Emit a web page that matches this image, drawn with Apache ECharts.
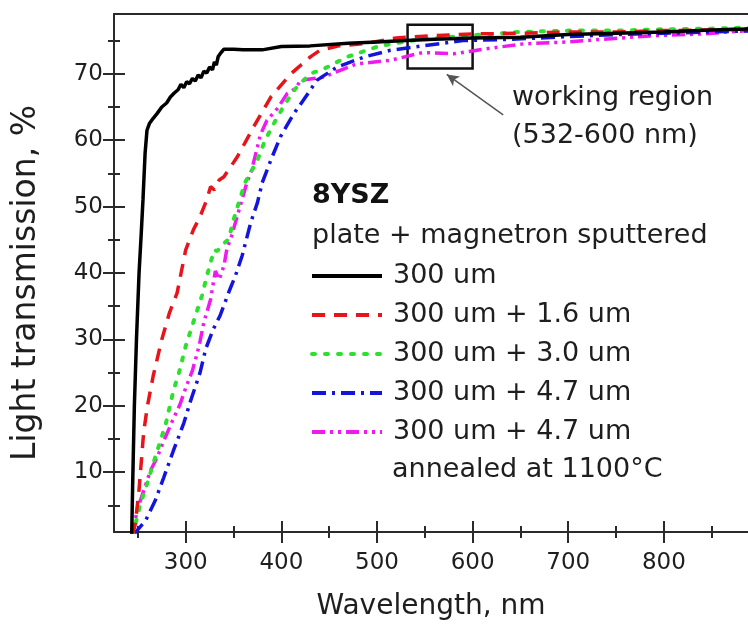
<!DOCTYPE html>
<html>
<head>
<meta charset="utf-8">
<script src="https://cdn.jsdelivr.net/npm/echarts@6/dist/echarts.min.js"></script>
<style>
html,body{margin:0;padding:0;background:#fff;}
#chart{width:748px;height:626px;}
</style>
</head>
<body>
<div id="chart"></div>
<script>
// ---- data (wavelength nm, transmission %) ----
var seriesNames = ['300 um', '300 um + 1.6 um', '300 um + 3.0 um', '300 um + 4.7 um', '300 um + 4.7 um '];

var plate300 = [[243.5,0.5],[244.5,8],[246.3,20],[248.5,30],[251.2,40],[253.5,46],[255.3,51],[257.5,58],[259.5,61.5],[262,62.5],[266,63.3],[270,64],[275,65],[280,65.6],[284,66.5],[288,67.1],[292,67.6],[295,68.4],[298,67.9],[301,68.8],[304,68.5],[307,69.3],[310,68.9],[313,69.8],[316,69.4],[319,70.4],[322,70.1],[325,71],[328,70.6],[330,71.8],[332,71.3],[334,72.6],[337,73.2],[340,73.7],[350,73.7],[360,73.6],[380,73.6],[400,74.1],[430,74.2],[470,74.6],[500,74.8],[530,75],[560,75.2],[600,75.4],[650,75.5],[700,75.9],[750,76.1],[800,76.3],[850,76.6],[900,76.8]];

var plus16 = [[244,0.5],[247,2],[251,7],[256,16],[260,20],[266,24.5],[275,30],[283,34],[291,37],[300,43.5],[308,46.5],[315,48.5],[322,51],[326,53],[330,52.5],[335,54],[340,54.5],[354,57.5],[371,62],[389,66.5],[410,70],[430,72.5],[440,73.5],[460,74.2],[490,74.6],[520,75.4],[555,75.7],[600,76],[650,76.1],[700,76.3],[750,76.3],[800,76.5],[850,76.6],[900,76.8]];

var plus30 = [[244,0.5],[247.4,2.2],[252.6,5.2],[259.5,8.2],[268,12.2],[279,17.2],[287,22.2],[293,25],[300,29],[308,32.6],[317,36.6],[322,39.5],[326,41.6],[330,43.5],[333,43.3],[338,44.2],[345,45.1],[350,48],[362,53.6],[375,57],[383,60],[394,63],[404,65.5],[415,67.8],[430,70],[444,70.7],[468,72.5],[503,74.2],[545,75.2],[600,75.8],[650,76.3],[700,76.5],[750,76.5],[800,76.7],[850,76.8],[900,77]];

var plus47 = [[246,0.5],[249,1.2],[258,2.7],[268,5.7],[277,9.2],[287,13.2],[298,17.4],[305,20.7],[315,25],[321,28.6],[329,31.6],[336,33.6],[345,37.1],[352,39.6],[359,42.6],[368,47.6],[375,50.6],[380,53.6],[389,57],[399,60.5],[413,64],[423,66],[437,69],[458,71],[486,72.5],[513,73.5],[548,74.2],[590,75],[642,75.2],[700,75.6],[750,75.9],[800,76.1],[850,76.3],[900,76.5]];

var plus47annealed = [[243,0.5],[246,1.7],[249,4.2],[256,7.2],[263,10.2],[270,12.2],[277,14.7],[286,17.7],[294,20.2],[300,22.7],[307,25.3],[314,29],[319,32.6],[326,36],[329,38.6],[331,40.3],[335,39],[340,41.1],[343,43.6],[348,45.6],[354,48.6],[359,51.1],[364,53.6],[369,55.5],[375,59],[378,60.8],[385,63],[396,64.8],[406,67],[415,67.8],[420,69],[444,69.5],[479,71.5],[513,72],[548,73.2],[580,73],[611,73.7],[653,74.5],[700,74.8],[737,75.2],[785,75.7],[840,76],[887,76.5],[900,76.6]];

// axis ticks
var xMajorTicks = [300, 400, 500, 600, 700, 800];
var xMinorTicks = [250, 350, 450, 550, 650, 750, 850];
var yMajorTicks = [10, 20, 30, 40, 50, 60, 70];
var yMinorTicks = [5, 15, 25, 35, 45, 55, 65, 75];

// annotation (data coordinates)
var workingRegion = [[532, 70.8], [600, 77.4]];
var arrowFrom = [632, 63.8];
var arrowTo = [573, 69.9];

var FONT = 'DejaVu Sans';
var TXT = '#1e1e1e';
var AX = '#2a2a2a';
var XMIN = 225, XMAX = 888, YMIN = 1, YMAX = 79;

function xAx(ticks, len, inside, main, pos) {
  return {
    type: 'value', min: XMIN, max: XMAX, position: pos || 'bottom', offset: 0,
    axisLine: {show: main || pos === 'top', onZero: false, lineStyle: {color: AX, width: 2}},
    axisTick: {show: !!ticks, inside: inside, length: len, customValues: ticks || [], lineStyle: {color: AX, width: 2}},
    axisLabel: main ? {show: true, customValues: xMajorTicks, fontFamily: FONT, fontSize: 23, color: TXT, margin: 20} : {show: false},
    splitLine: {show: false},
    name: main ? 'Wavelength, nm' : '',
    nameLocation: 'middle', nameGap: 61,
    nameTextStyle: {fontFamily: FONT, fontSize: 28, color: TXT}
  };
}
function yAx(ticks, len, inside, main) {
  return {
    type: 'value', min: YMIN, max: YMAX, position: 'left', offset: 0,
    axisLine: {show: main, onZero: false, lineStyle: {color: AX, width: 2}},
    axisTick: {show: true, inside: inside, length: len, customValues: ticks, lineStyle: {color: AX, width: 2}},
    axisLabel: main ? {show: true, customValues: yMajorTicks, fontFamily: FONT, fontSize: 23, color: TXT, margin: 11} : {show: false},
    splitLine: {show: false},
    name: main ? 'Light transmission, %' : '',
    nameLocation: 'middle', nameGap: 71, nameRotate: 90,
    nameTextStyle: {fontFamily: FONT, fontSize: 33, color: TXT, padding: [0, 20, 0, 0]}
  };
}

var chart = echarts.init(document.getElementById('chart'), null, {renderer: 'canvas'});

var lineBase = {type: 'line', showSymbol: false, symbol: 'none', smooth: false, xAxisIndex: 0, yAxisIndex: 0, animation: false};

var option = {
  backgroundColor: '#ffffff',
  animation: false,
  grid: {left: 114, top: 14, width: 634, height: 521, show: false},
  xAxis: [
    xAx(xMajorTicks, 11, false, true),
    xAx(xMajorTicks, 11, true, false),
    xAx(xMinorTicks, 6, false, false),
    xAx(xMinorTicks, 6, true, false),
    xAx(null, 0, false, false, 'top')
  ],
  yAxis: [
    yAx(yMajorTicks, 11, false, true),
    yAx(yMajorTicks, 11, true, false),
    yAx(yMinorTicks, 6, false, false),
    yAx(yMinorTicks, 6, true, false)
  ],
  legend: {
    orient: 'vertical', left: 310, top: 261, padding: 0,
    itemWidth: 70, itemHeight: 14, itemGap: 9,
    itemStyle: {opacity: 0},
    lineStyle: {width: 4},
    textStyle: {fontFamily: FONT, fontSize: 27, color: TXT, lineHeight: 30, padding: [0, 0, 0, 6]},
    data: seriesNames,
    selectedMode: false
  },
  series: [
    Object.assign({}, lineBase, {
      name: seriesNames[0], data: plate300, z: 5,
      lineStyle: {color: '#000000', width: 3.5, type: 'solid'}, itemStyle: {color: '#000000'},
      markArea: {silent: true, itemStyle: {color: 'rgba(0,0,0,0)', borderColor: '#111', borderWidth: 2.5},
        data: [[{coord: workingRegion[0]}, {coord: workingRegion[1]}]]},
      markLine: {silent: true, symbol: ['none', 'arrow'], symbolSize: [9, 12], label: {show: false},
        lineStyle: {color: '#555', width: 1.5, type: 'solid'},
        data: [[{coord: arrowFrom}, {coord: arrowTo}]]}
    }),
    Object.assign({}, lineBase, {
      name: seriesNames[1], data: plus16, z: 4,
      lineStyle: {color: '#e8141c', width: 3.5, type: [13, 9]}, itemStyle: {color: '#e8141c'}
    }),
    Object.assign({}, lineBase, {
      name: seriesNames[2], data: plus30, z: 3,
      lineStyle: {color: '#2ee02e', width: 4, type: [3, 10], cap: 'round'}, itemStyle: {color: '#2ee02e'}
    }),
    Object.assign({}, lineBase, {
      name: seriesNames[3], data: plus47, z: 2,
      lineStyle: {color: '#1414dc', width: 3.5, type: [14, 6, 3, 6]}, itemStyle: {color: '#1414dc'}
    }),
    Object.assign({}, lineBase, {
      name: seriesNames[4], data: plus47annealed, z: 1,
      lineStyle: {color: '#ee1aee', width: 3.5, type: [13, 5, 3, 5, 3, 5]}, itemStyle: {color: '#ee1aee'}
    })
  ],
  graphic: [
    {type: 'text', left: 312, top: 182, style: {text: '8YSZ', font: 'bold 27px "DejaVu Sans"', fill: '#111'}},
    {type: 'text', left: 312, top: 222, style: {text: 'plate + magnetron sputtered', font: '27px "DejaVu Sans"', fill: TXT}},
    {type: 'text', left: 392, top: 456, style: {text: 'annealed at 1100°C', font: '27px "DejaVu Sans"', fill: TXT}},
    {type: 'text', left: 512, top: 84, style: {text: 'working region', font: '27px "DejaVu Sans"', fill: TXT}},
    {type: 'text', left: 512, top: 122, style: {text: '(532-600 nm)', font: '27px "DejaVu Sans"', fill: TXT}}
  ]
};
chart.setOption(option);
</script>
</body>
</html>
